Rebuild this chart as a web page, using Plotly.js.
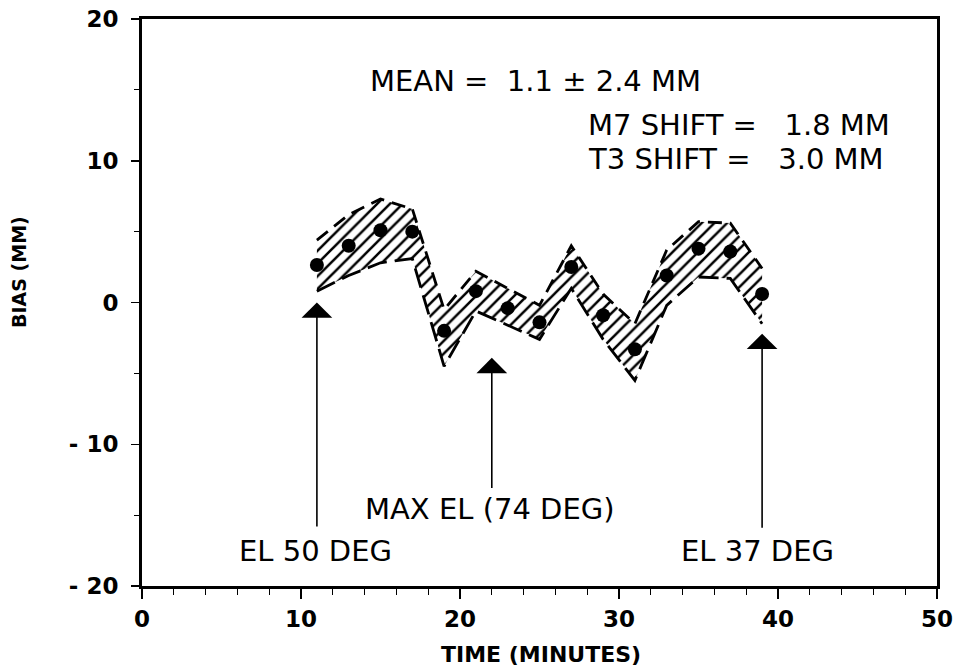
<!DOCTYPE html>
<html><head><meta charset="utf-8">
<script src="https://cdn.plot.ly/plotly-3.0.1.min.js"></script>
<style>html,body{margin:0;padding:0;background:#fff}#chart{width:955px;height:671px}</style>
</head><body><div id="chart"></div>
<script>
var timeMin = [11,13,15,17,19,21,23,25,27,29,31,33,35,37,39];
var biasMM  = [2.65,4.0,5.1,5.0,-2.0,0.8,-0.4,-1.4,2.5,-0.9,-3.3,1.9,3.8,3.6,0.6];
var upperMM = [4.4,6.2,7.3,6.6,-0.5,2.2,1.0,-0.2,4.0,0.6,-1.5,3.7,5.7,5.6,2.4];
var lowerMM = [0.8,1.9,2.8,3.1,-4.5,-0.6,-1.6,-2.6,1.0,-2.6,-5.5,-0.2,1.8,1.7,-1.5];
var yTickVals = [-20,-10,0,10,20];
var yTickText = ['- 20','- 10','0','10','20'];
var xTickVals = [0,10,20,30,40,50];

var arrowX    = [11,22,39];
var arrowTip  = [0.0,-3.9,-2.2];
var arrowBase = [-15.9,-13.2,-16.0];
var arrowLabels = ['EL 50 DEG','MAX EL (74 DEG)','EL 37 DEG'];
var labelX = [10.9,21.9,38.7];
var labelY = [-17.5,-14.6,-17.5];

var noteTexts = ['MEAN =  1.1 \u00b1 2.4 MM','M7 SHIFT =   1.8 MM','T3 SHIFT =   3.0 MM'];
var noteX = [14.2,27.9,27.9];
var noteY = [15.6,12.5,10.1];

var txtFont = {family:'DejaVu Sans, Verdana, sans-serif', size:29, color:'#000'};

var traces = [
  {x:timeMin, y:lowerMM, mode:'lines', line:{color:'#000', width:2.8, dash:'20px,8px'}, hoverinfo:'skip', showlegend:false},
  {x:timeMin, y:upperMM, mode:'lines', line:{color:'#000', width:2.8, dash:'14px,8px'}, fill:'tonexty',
   fillcolor:'rgba(0,0,0,0)', fillpattern:{shape:'/', fgcolor:'#000', bgcolor:'rgba(0,0,0,0)', size:9, solidity:0.28},
   hoverinfo:'skip', showlegend:false},
  {x:timeMin, y:biasMM, mode:'markers', marker:{color:'#000', size:14}, showlegend:false}
];

var ann = [];
for (var i=0;i<arrowX.length;i++){
  ann.push({x:arrowX[i], y:arrowTip[i], ax:arrowX[i], ay:arrowBase[i], xref:'x', yref:'y', axref:'x', ayref:'y',
    showarrow:true, arrowhead:1, arrowsize:3.2, arrowwidth:1.6, arrowcolor:'#000', text:''});
  ann.push({x:labelX[i], y:labelY[i], xref:'x', yref:'y', text:arrowLabels[i], showarrow:false, font:txtFont, xanchor:'center', yanchor:'middle'});
}
for (var j=0;j<noteTexts.length;j++){
  ann.push({x:noteX[j], y:noteY[j], xref:'x', yref:'y', text:noteTexts[j], showarrow:false, font:txtFont, xanchor:'left', yanchor:'middle'});
}
ann.push({x:0.502, y:-0.12, xref:'paper', yref:'paper', text:'<b>TIME (MINUTES)</b>', showarrow:false,
  font:{family:'DejaVu Sans, Verdana, sans-serif', size:22, color:'#000'}, xanchor:'center', yanchor:'middle'});
ann.push({x:-0.1547, y:0.5538, xref:'paper', yref:'paper', text:'<b>BIAS (MM)</b>', showarrow:false, textangle:-90,
  font:{family:'DejaVu Sans, Verdana, sans-serif', size:19, color:'#000'}, xanchor:'center', yanchor:'middle'});

var tickFont = {family:'DejaVu Sans, Verdana, sans-serif', size:23, color:'#000', weight:'bold'};
var layout = {
  width:955, height:671,
  margin:{l:142, r:18, t:19, b:85},
  paper_bgcolor:'#fff', plot_bgcolor:'#fff',
  showlegend:false,
  xaxis:{range:[0,50], tickvals:xTickVals, ticks:'outside', ticklen:10, tickwidth:1.5, tickcolor:'#000',
    minor:{dtick:2, ticks:'outside', ticklen:6, tickwidth:1, tickcolor:'#000', showgrid:false},
    showgrid:false, zeroline:false, showline:true, linecolor:'#000', linewidth:3, mirror:true,
    tickfont:tickFont, ticklabelstandoff:0},
  yaxis:{range:[-20,20], tickvals:yTickVals, ticktext:yTickText, ticks:'outside', ticklen:8, tickwidth:1.5, tickcolor:'#000',
    minor:{dtick:5, ticks:'outside', ticklen:5, tickwidth:1, tickcolor:'#000', showgrid:false},
    showgrid:false, zeroline:false, showline:true, linecolor:'#000', linewidth:3, mirror:true,
    tickfont:tickFont, ticklabelstandoff:8},
  annotations:ann
};
Plotly.newPlot('chart', traces, layout, {staticPlot:true, displayModeBar:false});
</script></body></html>
